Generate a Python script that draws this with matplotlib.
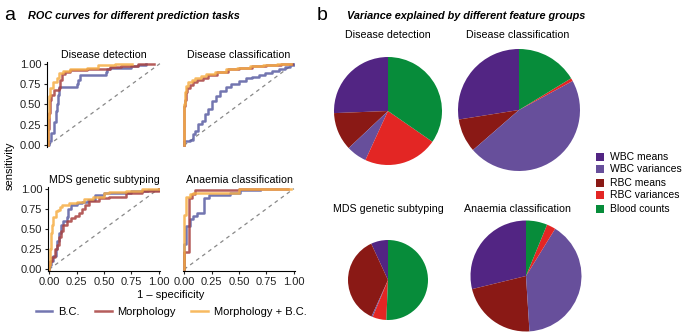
import numpy as np
import matplotlib
matplotlib.use('Agg')
import matplotlib.pyplot as plt
from matplotlib.patches import Rectangle

plt.rcParams['font.family'] = ['Liberation Sans', 'DejaVu Sans']

W, H = 685, 332

# ---- ROC data (fpr, tpr corner points, drawn as post-steps) ----
roc_tasks = ['Disease detection', 'Disease classification',
             'MDS genetic subtyping', 'Anaemia classification']
roc_models = ['B.C.', 'Morphology', 'Morphology + B.C.']

det_bc_fpr = [0, 0.01, 0.03, 0.05, 0.07, 0.08, 0.09, 0.1, 0.26, 0.27, 0.285, 0.52, 0.53, 0.55, 0.74, 0.8, 0.88]
det_bc_tpr = [0, 0.05, 0.15, 0.28, 0.42, 0.5, 0.62, 0.72, 0.75, 0.8, 0.86, 0.9, 0.93, 0.95, 0.97, 0.98, 1.0]
det_mo_fpr = [0, 0, 0.01, 0.02, 0.03, 0.05, 0.1, 0.11, 0.12, 0.15, 0.2, 0.35, 0.5, 0.55, 0.65, 0.8, 0.95]
det_mo_tpr = [0, 0.2, 0.4, 0.55, 0.62, 0.68, 0.7, 0.8, 0.87, 0.9, 0.92, 0.93, 0.94, 0.96, 0.97, 0.99, 1.0]
det_mb_fpr = [0, 0, 0.01, 0.02, 0.04, 0.06, 0.08, 0.1, 0.13, 0.2, 0.35, 0.45, 0.6, 0.75]
det_mb_tpr = [0, 0.35, 0.6, 0.7, 0.77, 0.78, 0.82, 0.88, 0.91, 0.93, 0.95, 0.98, 0.99, 1.0]

cls_bc_fpr = [0, 0, 0.05, 0.08, 0.1, 0.13, 0.16, 0.19, 0.22, 0.25, 0.29, 0.33, 0.38, 0.43, 0.5, 0.56, 0.62, 0.68, 0.74, 0.8, 0.86, 0.92, 0.96, 1.0]
cls_bc_tpr = [0, 0.05, 0.07, 0.14, 0.18, 0.26, 0.3, 0.38, 0.45, 0.54, 0.6, 0.67, 0.71, 0.75, 0.79, 0.82, 0.84, 0.86, 0.88, 0.91, 0.93, 0.96, 0.98, 1.0]
cls_mo_fpr = [0, 0, 0.01, 0.02, 0.03, 0.05, 0.08, 0.12, 0.17, 0.22, 0.3, 0.4, 0.5, 0.62, 0.75, 0.88, 0.98]
cls_mo_tpr = [0, 0.48, 0.55, 0.65, 0.7, 0.74, 0.77, 0.8, 0.83, 0.86, 0.9, 0.93, 0.95, 0.97, 0.98, 0.99, 1.0]
cls_mb_fpr = [0, 0, 0.01, 0.02, 0.04, 0.07, 0.1, 0.15, 0.2, 0.28, 0.38, 0.48, 0.6, 0.72, 0.85, 0.97]
cls_mb_tpr = [0, 0.5, 0.65, 0.73, 0.77, 0.8, 0.82, 0.85, 0.87, 0.9, 0.93, 0.95, 0.97, 0.98, 0.99, 1.0]

mds_bc_fpr = [0, 0, 0.02, 0.04, 0.06, 0.07, 0.09, 0.11, 0.13, 0.16, 0.17, 0.2, 0.25, 0.3, 0.35, 0.42, 0.42, 0.5, 0.6, 0.75, 0.9, 1.0]
mds_bc_tpr = [0, 0.05, 0.1, 0.17, 0.25, 0.35, 0.45, 0.55, 0.6, 0.65, 0.75, 0.8, 0.82, 0.84, 0.86, 0.88, 0.92, 0.94, 0.95, 0.97, 0.98, 1.0]
mds_mo_fpr = [0, 0, 0.01, 0.03, 0.05, 0.07, 0.09, 0.11, 0.13, 0.16, 0.2, 0.24, 0.27, 0.3, 0.33, 0.36, 0.45, 0.55, 0.7, 0.85, 1.0]
mds_mo_tpr = [0, 0.05, 0.1, 0.15, 0.25, 0.3, 0.4, 0.48, 0.55, 0.6, 0.64, 0.66, 0.7, 0.75, 0.8, 0.85, 0.88, 0.9, 0.94, 0.97, 0.99]
mds_mb_fpr = [0, 0, 0.01, 0.02, 0.03, 0.04, 0.06, 0.08, 0.1, 0.12, 0.18, 0.25, 0.32, 0.4, 0.5, 0.55, 0.7, 0.85, 1.0]
mds_mb_tpr = [0, 0.05, 0.25, 0.45, 0.55, 0.65, 0.72, 0.73, 0.77, 0.8, 0.82, 0.84, 0.87, 0.9, 0.94, 0.96, 0.97, 0.99, 1.0]

ana_bc_fpr = [0, 0, 0.02, 0.05, 0.08, 0.12, 0.18, 0.23, 0.42, 0.51, 0.69]
ana_bc_tpr = [0, 0.31, 0.54, 0.63, 0.66, 0.7, 0.88, 0.92, 0.95, 0.98, 0.98]
ana_mo_fpr = [0, 0, 0.045, 0.07, 0.1, 0.3, 0.5, 0.95]
ana_mo_tpr = [0, 0.22, 0.88, 0.93, 0.98, 0.98, 1.0, 1.0]
ana_mb_fpr = [0, 0, 0.02, 0.05, 0.08, 0.5, 0.97]
ana_mb_tpr = [0, 0.67, 0.9, 0.93, 0.95, 1.0, 1.0]

roc_data = [
    [(det_bc_fpr, det_bc_tpr), (det_mo_fpr, det_mo_tpr), (det_mb_fpr, det_mb_tpr)],
    [(cls_bc_fpr, cls_bc_tpr), (cls_mo_fpr, cls_mo_tpr), (cls_mb_fpr, cls_mb_tpr)],
    [(mds_bc_fpr, mds_bc_tpr), (mds_mo_fpr, mds_mo_tpr), (mds_mb_fpr, mds_mb_tpr)],
    [(ana_bc_fpr, ana_bc_tpr), (ana_mo_fpr, ana_mo_tpr), (ana_mb_fpr, ana_mb_tpr)],
]

# ---- variance explained (pies) ----
feature_groups = ['WBC means', 'WBC variances', 'RBC means', 'RBC variances', 'Blood counts']
pie_tasks = ['Disease detection', 'Disease classification',
             'MDS genetic subtyping', 'Anaemia classification']
var_detection = [0.256, 0.061, 0.114, 0.222, 0.346]
var_classification = [0.275, 0.465, 0.089, 0.008, 0.163]
var_mds = [0.069, 0.005, 0.364, 0.056, 0.507]
var_anaemia = [0.288, 0.402, 0.222, 0.026, 0.062]
pie_values = [var_detection, var_classification, var_mds, var_anaemia]

roc_colors = ['#5b5ea3', '#a8413f', '#f6ae45']
pie_colors = ['#522583', '#674f9b', '#8a1915', '#e32624', '#078c3a']


def rect(l, t, r, b):
    return [l / W, 1 - b / H, (r - l) / W, (b - t) / H]


fig = plt.figure(figsize=(W / 100, H / 100), dpi=100)

# ---------------- panel a ----------------
fig.text(4 / W, 1 - 15 / H, 'a', fontsize=14, va='center', ha='left')
fig.text(28 / W, 1 - 16 / H, 'ROC curves for different prediction tasks',
         fontsize=7.8, fontweight='bold', fontstyle='italic', va='center', ha='left')

roc_rects = [rect(47, 62, 161, 147), rect(183, 62, 295, 147),
             rect(48, 187, 160, 271), rect(183, 187, 295, 271)]
ticks = [0, 0.25, 0.5, 0.75, 1.0]
tlabels = ['0.00', '0.25', '0.50', '0.75', '1.00']
lines = []
for i, task in enumerate(roc_tasks):
    ax = fig.add_axes(roc_rects[i])
    ax.plot([0, 1], [0, 1], ls=(0, (3, 3)), color='#888888', lw=0.9)
    for j, (fpr, tpr) in enumerate(roc_data[i]):
        l, = ax.plot(fpr, tpr, drawstyle='steps-post', color=roc_colors[j],
                     lw=1.8, alpha=0.85)
        if i == 0:
            lines.append(l)
    ax.set_xlim(-0.01, 1.01)
    ax.set_ylim(-0.02, 1.02)
    ax.set_title(task, fontsize=7.7, pad=3)
    for s in ['top', 'right']:
        ax.spines[s].set_visible(False)
    ax.tick_params(length=2.5, width=0.8, labelsize=8, pad=1.5, colors='#222222')
    ax.set_xticks(ticks)
    ax.set_yticks(ticks)
    if i % 2 == 0:
        ax.set_yticklabels(tlabels)
    else:
        ax.spines['left'].set_visible(False)
        ax.tick_params(axis='y', left=False, labelleft=False)
    if i >= 2:
        ax.set_xticklabels(tlabels)
    else:
        ax.spines['bottom'].set_visible(False)
        ax.tick_params(axis='x', bottom=False, labelbottom=False)

fig.text(10 / W, 1 - 166 / H, 'sensitivity', rotation=90, fontsize=8,
         va='center', ha='center')
fig.text(171 / W, 1 - 295 / H, '1 \u2013 specificity', fontsize=8,
         va='center', ha='center')
fig.legend(lines, roc_models, loc='center', bbox_to_anchor=(171 / W, 1 - 312 / H),
           ncol=3, frameon=False, fontsize=8, handlelength=1.5,
           columnspacing=1.4, handletextpad=0.5)

# ---------------- panel b ----------------
fig.text(317 / W, 1 - 15 / H, 'b', fontsize=14, va='center', ha='left')
fig.text(347 / W, 1 - 16 / H, 'Variance explained by different feature groups',
         fontsize=7.8, fontweight='bold', fontstyle='italic', va='center', ha='left')

axp = fig.add_axes([300 / W, 0, (W - 300) / W, 1])
# pie layout in pixel units (centre x, centre y, radius)
pie_layout = [(388, 111, 54), (519, 110, 61), (388, 280, 40), (526, 276, 55.5)]
title_pos = [(388, 35), (518, 35), (388, 209), (518, 209)]
# counter-clockwise from 12 o'clock
draw_order = [0, 2, 1, 3, 4]
for k, vals in enumerate(pie_values):
    cx, cy, r = pie_layout[k]
    axp.pie([vals[o] for o in draw_order], colors=[pie_colors[o] for o in draw_order],
            startangle=90, counterclock=True, radius=r, center=(cx, H - cy),
            frame=True, wedgeprops=dict(linewidth=0))
    tx, ty = title_pos[k]
    axp.text(tx, H - ty, pie_tasks[k], fontsize=7.7, ha='center', va='center')

leg_y = [157, 169, 183, 195, 209]
for g, name in enumerate(feature_groups):
    axp.add_patch(Rectangle((596, H - leg_y[g] - 4), 8, 8, color=pie_colors[g], lw=0))
    axp.text(610, H - leg_y[g], name, fontsize=7.5, ha='left', va='center')

axp.set_xlim(300, W)
axp.set_ylim(0, H)
axp.set_aspect('auto')
axp.axis('off')

fig.savefig('out.png', dpi=100)
